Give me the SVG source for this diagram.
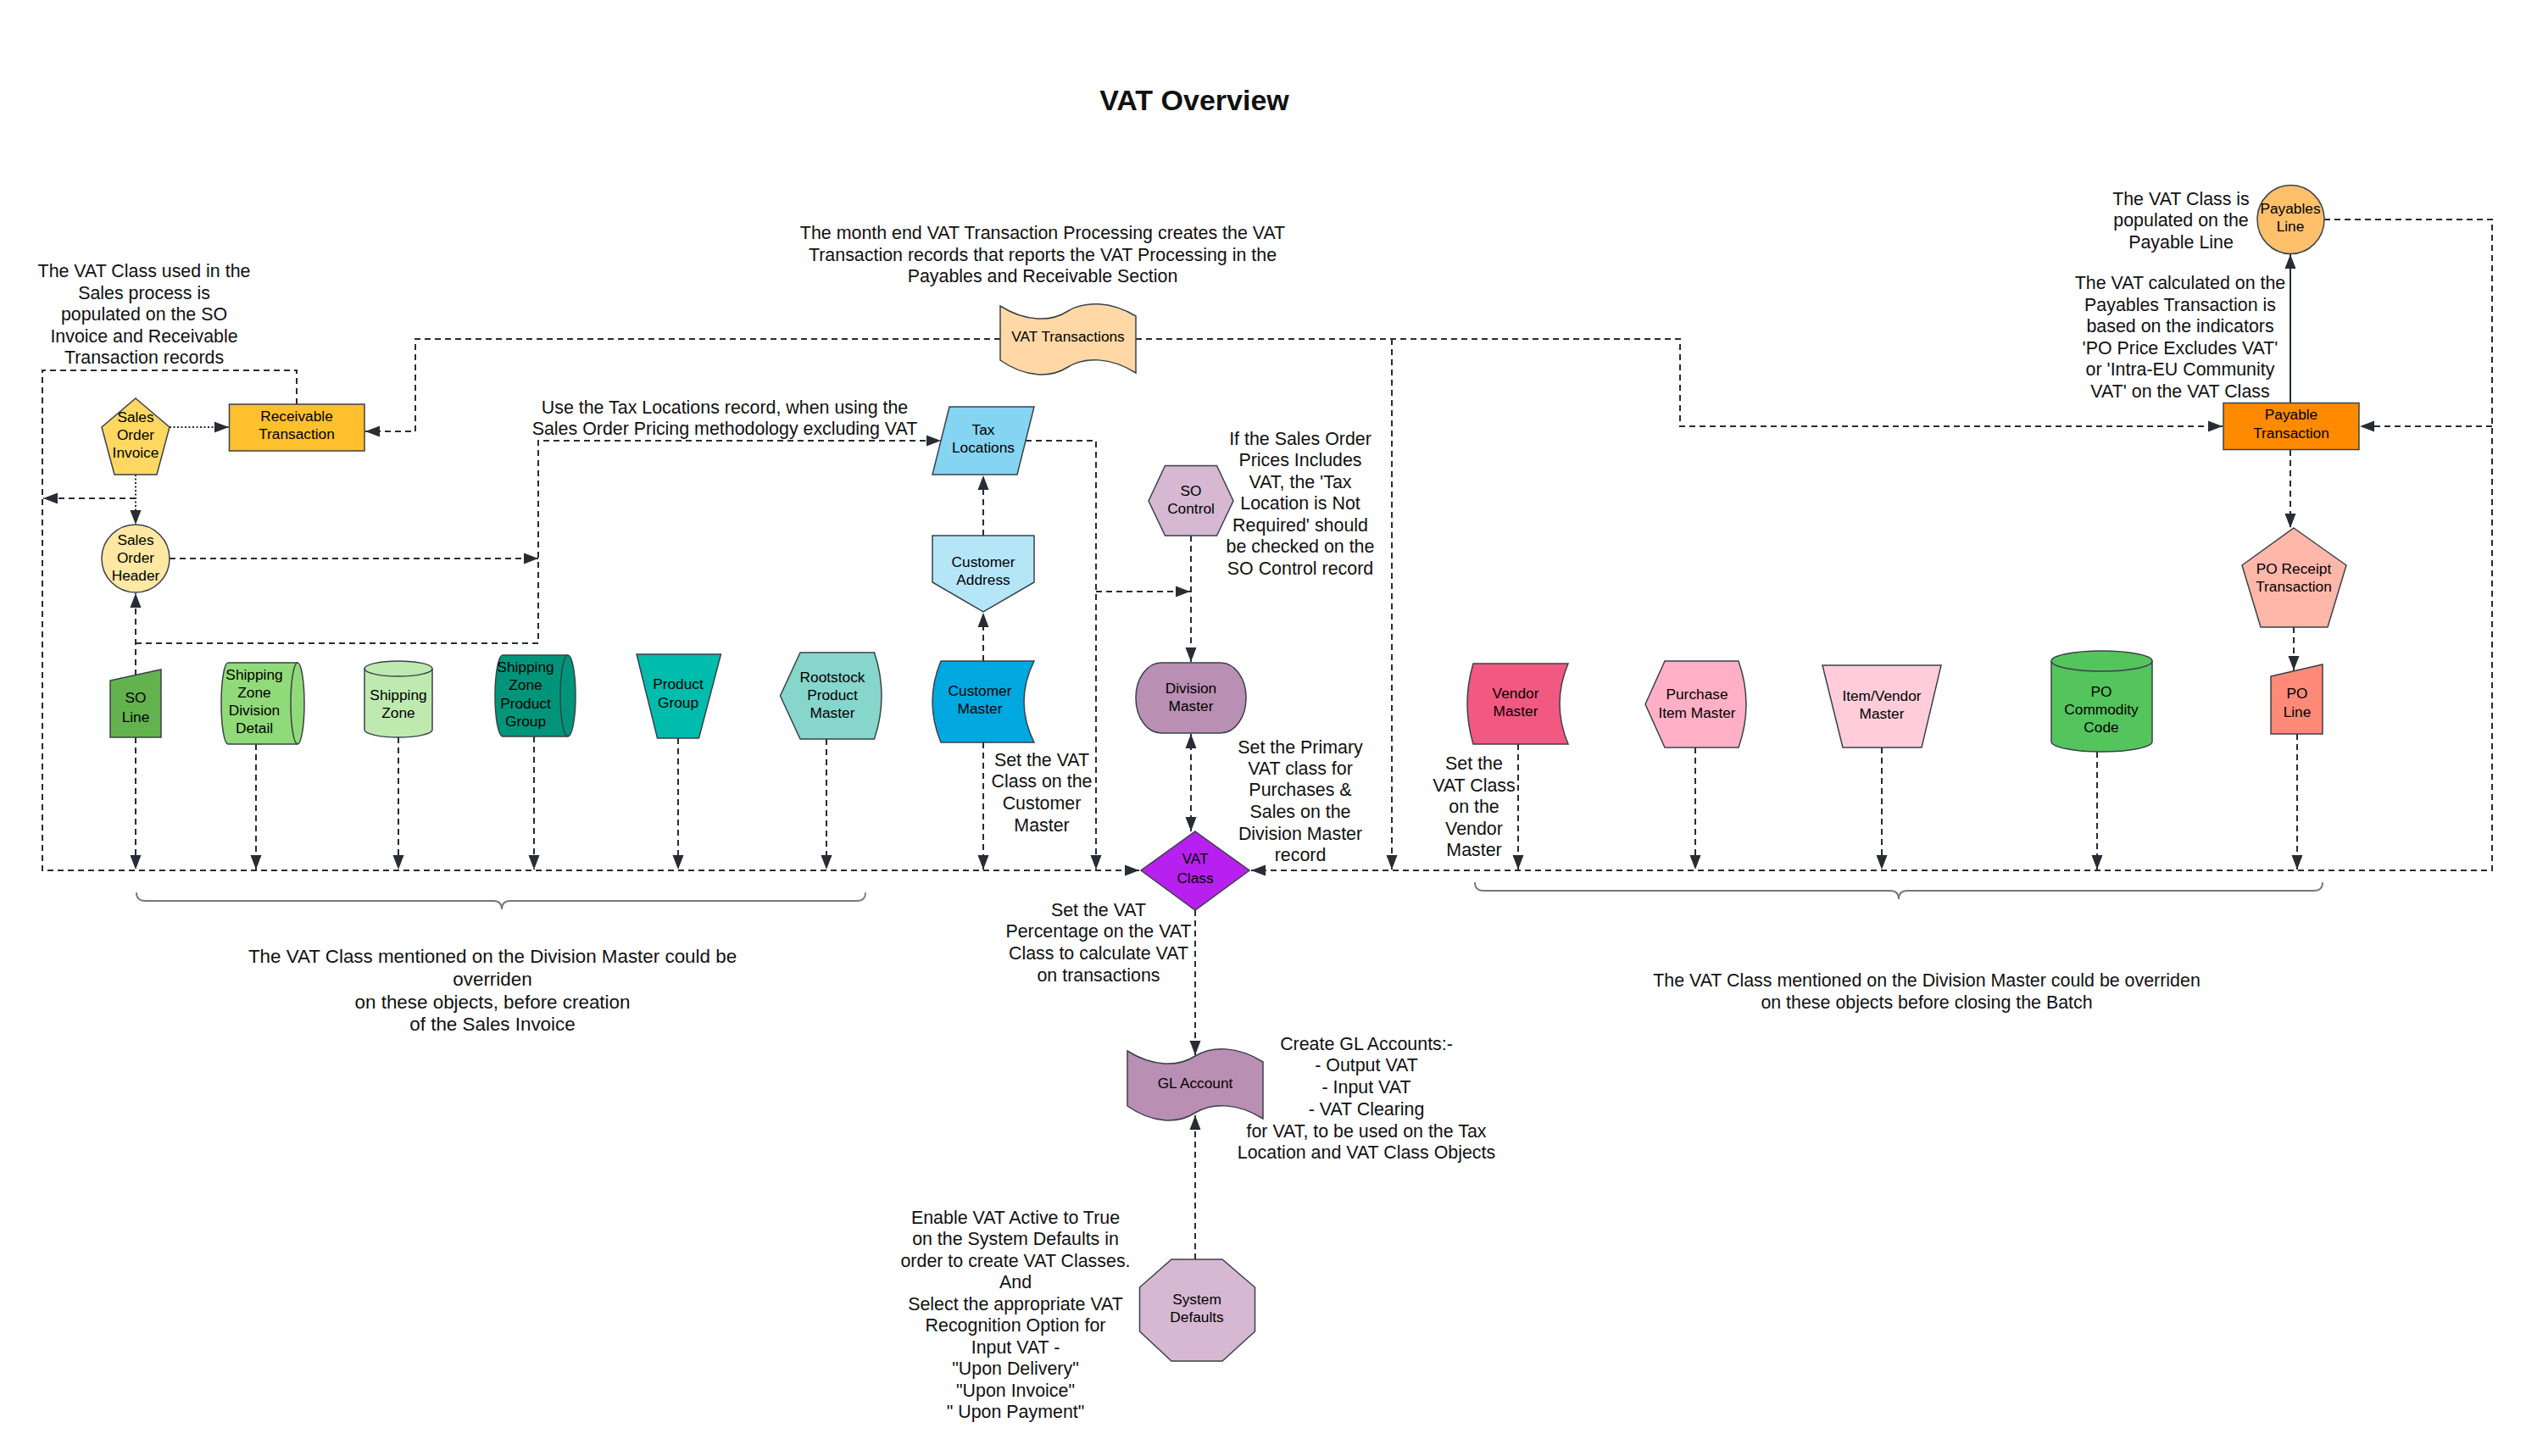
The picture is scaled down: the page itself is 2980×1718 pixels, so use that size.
<svg xmlns="http://www.w3.org/2000/svg" width="2980" height="1718" viewBox="0 0 2980 1718">
<style>
text{font-family:"Liberation Sans",Arial,sans-serif;text-anchor:middle;fill:#111}
.a{font-size:21.4px}
.a2{font-size:22.4px}
.n{font-size:17.3px;fill:#000}
.t{font-size:34px;font-weight:bold}
.sh{stroke:#3a414a;stroke-width:1.5}
.c{fill:none;stroke:#282c33;stroke-width:2}
.d{stroke-dasharray:7 5}
.dt{stroke-dasharray:2 2.5}
.br{fill:none;stroke:#777;stroke-width:1.8}
</style>
<defs>
<marker id="ah" markerUnits="userSpaceOnUse" markerWidth="18" markerHeight="14" refX="17" refY="7" orient="auto-start-reverse">
<path d="M0,0.5 L17,7 L0,13.5 Z" fill="#282c33"/>
</marker>
</defs>
<rect width="2980" height="1718" fill="#fff"/>
<text class="t" x="1409" y="130">VAT Overview</text>

<g id="connectors">
<path class="c d" d="M350,477 V437 H50 V1027 H1344" marker-end="url(#ah)"/>
<path class="c dt" d="M200,504 H270" marker-end="url(#ah)"/>
<path class="c dt" d="M160,560 V619" marker-end="url(#ah)"/>
<path class="c d" d="M160,588 H51" marker-end="url(#ah)"/>
<path class="c d" d="M200,659 H635" marker-end="url(#ah)"/>
<path class="c d" d="M160,759 H635 V520 H1110" marker-end="url(#ah)"/>
<path class="c d" d="M160,797 V700" marker-end="url(#ah)"/>
<path class="c d" d="M1180,400 H490 V509 H431" marker-end="url(#ah)"/>
<path class="c d" d="M1210,520 H1293 V1026" marker-end="url(#ah)"/>
<path class="c d" d="M1293,698 H1404" marker-end="url(#ah)"/>
<path class="c d" d="M1160,632 V561" marker-end="url(#ah)"/>
<path class="c d" d="M1160,780 V723" marker-end="url(#ah)"/>
<path class="c d" d="M1160,876 V1026" marker-end="url(#ah)"/>
<path class="c d" d="M1405,632 V781" marker-end="url(#ah)"/>
<path class="c d" d="M1405,866 V981" marker-start="url(#ah)" marker-end="url(#ah)"/>
<path class="c d" d="M1410,1074 V1245" marker-end="url(#ah)"/>
<path class="c d" d="M1410,1486 V1316" marker-end="url(#ah)"/>
<path class="c d" d="M2742,259 H2940 V1027 H1476" marker-end="url(#ah)"/>
<path class="c d" d="M2940,503 H2784" marker-end="url(#ah)"/>
<path class="c d" d="M1340,400 H1982 V503 H2622" marker-end="url(#ah)"/>
<path class="c d" d="M1642,400 V1026" marker-end="url(#ah)"/>
<path class="c" d="M2702,475 V300" marker-end="url(#ah)"/>
<path class="c d" d="M2702,531 V623" marker-end="url(#ah)"/>
<path class="c d" d="M2706,740 V791" marker-end="url(#ah)"/>
<path class="c d" d="M2710,866 V1026" marker-end="url(#ah)"/>
<path class="c d" d="M1791,878 V1026" marker-end="url(#ah)"/>
<path class="c d" d="M2000,882 V1026" marker-end="url(#ah)"/>
<path class="c d" d="M2220,882 V1026" marker-end="url(#ah)"/>
<path class="c d" d="M2474,887 V1026" marker-end="url(#ah)"/>
<path class="c d" d="M160,870 V1026" marker-end="url(#ah)"/>
<path class="c d" d="M302,878 V1026" marker-end="url(#ah)"/>
<path class="c d" d="M470,870 V1026" marker-end="url(#ah)"/>
<path class="c d" d="M630,869 V1026" marker-end="url(#ah)"/>
<path class="c d" d="M800,871 V1026" marker-end="url(#ah)"/>
<path class="c d" d="M975,872 V1026" marker-end="url(#ah)"/>
</g>

<g id="braces">
<path class="br" d="M161,1053 Q161,1063 171,1063 H582 Q592,1063 592,1073 Q592,1063 602,1063 H1011 Q1021,1063 1021,1053"/>
<path class="br" d="M1740,1041 Q1740,1051 1750,1051 H2230 Q2240,1051 2240,1061 Q2240,1051 2250,1051 H2730 Q2740,1051 2740,1041"/>
</g>

<g id="sales-order-invoice">
<path class="sh" fill="#ffd862" d="M160,470 L200,504 L185,560 L135,560 L120,504 Z"/>
<text class="n"><tspan x="160" y="498">Sales</tspan><tspan x="160" y="519">Order</tspan><tspan x="160" y="540">Invoice</tspan></text>
</g>
<g id="receivable-transaction">
<rect class="sh" fill="#ffc02e" x="270.5" y="477" width="159.5" height="55"/>
<text class="n"><tspan x="350" y="497">Receivable</tspan><tspan x="350" y="518">Transaction</tspan></text>
</g>
<g id="sales-order-header">
<ellipse class="sh" fill="#ffe8a3" cx="160" cy="659" rx="40" ry="40"/>
<text class="n"><tspan x="160" y="643">Sales</tspan><tspan x="160" y="664">Order</tspan><tspan x="160" y="685">Header</tspan></text>
</g>
<g id="vat-transactions">
<path class="sh" fill="#ffd8a6" d="M1180,361 C1210,380 1240,380 1260,367 C1280,355 1310,355 1340,373 L1340,440 C1310,421 1280,421 1260,433 C1240,446 1210,446 1180,425 Z"/>
<text class="n" x="1260" y="403">VAT Transactions</text>
</g>
<g id="tax-locations">
<path class="sh" fill="#84d4f2" d="M1120,480 L1220,480 L1200,560 L1100,560 Z"/>
<text class="n"><tspan x="1160" y="513">Tax</tspan><tspan x="1160" y="534">Locations</tspan></text>
</g>
<g id="customer-address">
<path class="sh" fill="#b5e6f8" d="M1100,632 L1220,632 L1220,687 L1160,722 L1100,687 Z"/>
<text class="n"><tspan x="1160" y="669">Customer</tspan><tspan x="1160" y="690">Address</tspan></text>
</g>
<g id="customer-master">
<path class="sh" fill="#00a8df" d="M1110,780 L1220,780 Q1196,828 1220,876 L1110,876 Q1090,828 1110,780 Z"/>
<text class="n"><tspan x="1156" y="821">Customer</tspan><tspan x="1156" y="842">Master</tspan></text>
</g>
<g id="so-control">
<path class="sh" fill="#d6b8d3" d="M1355,591 L1374.5,549.5 L1435.5,549.5 L1455,591 L1435.5,632 L1374.5,632 Z"/>
<text class="n"><tspan x="1405" y="585">SO</tspan><tspan x="1405" y="606">Control</tspan></text>
</g>
<g id="division-master">
<rect class="sh" fill="#b98fb4" x="1340" y="782" width="130" height="83" rx="30" ry="41"/>
<text class="n"><tspan x="1405" y="818">Division</tspan><tspan x="1405" y="839">Master</tspan></text>
</g>
<g id="vat-class">
<path class="sh" fill="#b720ee" d="M1410,981 L1474,1027 L1410,1074 L1346,1027 Z"/>
<text class="n"><tspan x="1410" y="1019">VAT</tspan><tspan x="1410" y="1042">Class</tspan></text>
</g>
<g id="gl-account">
<path class="sh" fill="#b98fb4" d="M1330,1240 C1360,1259 1390,1259 1410,1246 C1430,1234 1460,1234 1490,1253 L1490,1320 C1460,1301 1430,1301 1410,1313 C1390,1326 1360,1326 1330,1305 Z"/>
<text class="n" x="1410" y="1284">GL Account</text>
</g>
<g id="system-defaults">
<path class="sh" fill="#d6b8d3" d="M1382,1486 L1442,1486 L1480.5,1519 L1480.5,1571 L1442,1606 L1382,1606 L1344.5,1571 L1344.5,1519 Z"/>
<text class="n"><tspan x="1412" y="1539">System</tspan><tspan x="1412" y="1560">Defaults</tspan></text>
</g>
<g id="payables-line">
<ellipse class="sh" fill="#ffc06c" cx="2702.5" cy="259" rx="39.5" ry="40.5"/>
<text class="n"><tspan x="2702" y="252">Payables</tspan><tspan x="2702" y="273">Line</tspan></text>
</g>
<g id="payable-transaction">
<rect class="sh" fill="#ff8a00" x="2623" y="475.5" width="160" height="55"/>
<text class="n"><tspan x="2703" y="495">Payable</tspan><tspan x="2703" y="517">Transaction</tspan></text>
</g>
<g id="po-receipt-transaction">
<path class="sh" fill="#ffb7aa" d="M2706,623 L2768,667 L2746,740 L2667,740 L2645,667 Z"/>
<text class="n"><tspan x="2706" y="677">PO Receipt</tspan><tspan x="2706" y="698">Transaction</tspan></text>
</g>
<g id="po-line">
<path class="sh" fill="#ff8a78" d="M2679,798 L2740,784 L2740,866 L2679,866 Z"/>
<text class="n"><tspan x="2710" y="824">PO</tspan><tspan x="2710" y="846">Line</tspan></text>
</g>
<g id="vendor-master">
<path class="sh" fill="#f25981" d="M1738,783 L1850,783 Q1830,830.5 1850,878 L1738,878 Q1724,830.5 1738,783 Z"/>
<text class="n"><tspan x="1788" y="824">Vendor</tspan><tspan x="1788" y="845">Master</tspan></text>
</g>
<g id="purchase-item-master">
<path class="sh" fill="#ffb0c6" d="M1964,780 L2051,780 Q2069,831 2051,882 L1964,882 L1941,831 Z"/>
<text class="n"><tspan x="2002" y="825">Purchase</tspan><tspan x="2002" y="847">Item Master</tspan></text>
</g>
<g id="item-vendor-master">
<path class="sh" fill="#ffcdda" d="M2150,785 L2290,785 L2267,882 L2174,882 Z"/>
<text class="n"><tspan x="2220" y="827">Item/Vendor</tspan><tspan x="2220" y="848">Master</tspan></text>
</g>
<g id="po-commodity-code">
<path class="sh" fill="#54c45c" d="M2420,780 A59.5,12 0 0 1 2539,780 L2539,875 A59.5,12 0 0 1 2420,875 Z"/>
<path class="sh" fill="none" d="M2420,780 A59.5,12 0 0 0 2539,780"/>
<text class="n"><tspan x="2479" y="822">PO</tspan><tspan x="2479" y="843">Commodity</tspan><tspan x="2479" y="864">Code</tspan></text>
</g>
<g id="so-line">
<path class="sh" fill="#62b34e" d="M130,803 L190,790 L190,870 L130,870 Z"/>
<text class="n"><tspan x="160" y="829">SO</tspan><tspan x="160" y="852">Line</tspan></text>
</g>
<g id="shipping-zone-division-detail">
<path class="sh" fill="#91da79" d="M269,782 L351,782 A8,48 0 0 1 351,878 L269,878 A8,48 0 0 1 269,782 Z"/>
<path class="sh" fill="none" d="M351,782 A8,48 0 0 0 351,878"/>
<text class="n"><tspan x="300" y="802">Shipping</tspan><tspan x="300" y="823">Zone</tspan><tspan x="300" y="844">Division</tspan><tspan x="300" y="865">Detail</tspan></text>
</g>
<g id="shipping-zone">
<path class="sh" fill="#beeab0" d="M430,789 A40,9 0 0 1 510,789 L510,861 A40,9 0 0 1 430,861 Z"/>
<path class="sh" fill="none" d="M430,789 A40,9 0 0 0 510,789"/>
<text class="n"><tspan x="470" y="826">Shipping</tspan><tspan x="470" y="847">Zone</tspan></text>
</g>
<g id="shipping-zone-product-group">
<path class="sh" fill="#00957a" d="M593,773 L670,773 A9,48 0 0 1 670,869 L593,869 A9,48 0 0 1 593,773 Z"/>
<path class="sh" fill="none" d="M670,773 A9,48 0 0 0 670,869"/>
<text class="n"><tspan x="620" y="793">Shipping</tspan><tspan x="620" y="814">Zone</tspan><tspan x="620" y="836">Product</tspan><tspan x="620" y="857">Group</tspan></text>
</g>
<g id="product-group">
<path class="sh" fill="#00bcac" d="M751,772 L850.5,772 L824.5,871 L775.5,871 Z"/>
<text class="n"><tspan x="800" y="813">Product</tspan><tspan x="800" y="835">Group</tspan></text>
</g>
<g id="rootstock-product-master">
<path class="sh" fill="#87d6cb" d="M944,770 L1031.5,770 Q1048.5,821 1031.5,872 L944,872 L920.5,821 Z"/>
<text class="n"><tspan x="982" y="805">Rootstock</tspan><tspan x="982" y="826">Product</tspan><tspan x="982" y="847">Master</tspan></text>
</g>

<g id="annotations">
<text class="a"><tspan x="170" y="327">The VAT Class used in the</tspan><tspan x="170" y="352.5">Sales process is</tspan><tspan x="170" y="378">populated on the SO</tspan><tspan x="170" y="403.5">Invoice and Receivable</tspan><tspan x="170" y="429">Transaction records</tspan></text>
<text class="a"><tspan x="1230" y="282">The month end VAT Transaction Processing creates the VAT</tspan><tspan x="1230" y="307.5">Transaction records that reports the VAT Processing in the</tspan><tspan x="1230" y="333">Payables and Receivable Section</tspan></text>
<text class="a"><tspan x="855" y="488">Use the Tax Locations record, when using the</tspan><tspan x="855" y="512.5">Sales Order Pricing methodology excluding VAT</tspan></text>
<text class="a"><tspan x="1534" y="524.5">If the Sales Order</tspan><tspan x="1534" y="550">Prices Includes</tspan><tspan x="1534" y="575.5">VAT, the 'Tax</tspan><tspan x="1534" y="601">Location is Not</tspan><tspan x="1534" y="626.5">Required' should</tspan><tspan x="1534" y="652">be checked on the</tspan><tspan x="1534" y="677.5">SO Control record</tspan></text>
<text class="a"><tspan x="1229" y="903.5">Set the VAT</tspan><tspan x="1229" y="929">Class on the</tspan><tspan x="1229" y="955">Customer</tspan><tspan x="1229" y="980.5">Master</tspan></text>
<text class="a"><tspan x="1534" y="888.5">Set the Primary</tspan><tspan x="1534" y="913.5">VAT class for</tspan><tspan x="1534" y="939">Purchases &amp;</tspan><tspan x="1534" y="965">Sales on the</tspan><tspan x="1534" y="990.5">Division Master</tspan><tspan x="1534" y="1016">record</tspan></text>
<text class="a"><tspan x="1739" y="907.5">Set the</tspan><tspan x="1739" y="933.5">VAT Class</tspan><tspan x="1739" y="958.5">on the</tspan><tspan x="1739" y="984.5">Vendor</tspan><tspan x="1739" y="1009.5">Master</tspan></text>
<text class="a"><tspan x="1296" y="1080.5">Set the VAT</tspan><tspan x="1296" y="1106">Percentage on the VAT</tspan><tspan x="1296" y="1132">Class to calculate VAT</tspan><tspan x="1296" y="1157.5">on transactions</tspan></text>
<text class="a"><tspan x="1612" y="1238.5">Create GL Accounts:-</tspan><tspan x="1612" y="1264">- Output VAT</tspan><tspan x="1612" y="1289.5">- Input VAT</tspan><tspan x="1612" y="1315.5">- VAT Clearing</tspan><tspan x="1612" y="1341.5">for VAT, to be used on the Tax</tspan><tspan x="1612" y="1366.5">Location and VAT Class Objects</tspan></text>
<text class="a"><tspan x="1198" y="1443.5">Enable VAT Active to True</tspan><tspan x="1198" y="1469">on the System Defaults in</tspan><tspan x="1198" y="1494.5">order to create VAT Classes.</tspan><tspan x="1198" y="1520">And</tspan><tspan x="1198" y="1545.5">Select the appropriate VAT</tspan><tspan x="1198" y="1571">Recognition Option for</tspan><tspan x="1198" y="1596.5">Input VAT -</tspan><tspan x="1198" y="1622">"Upon Delivery"</tspan><tspan x="1198" y="1647.5">"Upon Invoice"</tspan><tspan x="1198" y="1673">" Upon Payment"</tspan></text>
<text class="a"><tspan x="2573" y="241.5">The VAT Class is</tspan><tspan x="2573" y="267">populated on the</tspan><tspan x="2573" y="292.5">Payable Line</tspan></text>
<text class="a"><tspan x="2572" y="341">The VAT calculated on the</tspan><tspan x="2572" y="366.5">Payables Transaction is</tspan><tspan x="2572" y="392">based on the indicators</tspan><tspan x="2572" y="417.5">'PO Price Excludes VAT'</tspan><tspan x="2572" y="443">or 'Intra-EU Community</tspan><tspan x="2572" y="469">VAT' on the VAT Class</tspan></text>
<text class="a2"><tspan x="581" y="1136">The VAT Class mentioned on the Division Master could be</tspan><tspan x="581" y="1162.5">overriden</tspan><tspan x="581" y="1189.5">on these objects, before creation</tspan><tspan x="581" y="1216">of the Sales Invoice</tspan></text>
<text class="a"><tspan x="2273" y="1163.5">The VAT Class mentioned on the Division Master could be overriden</tspan><tspan x="2273" y="1189.5">on these objects before closing the Batch</tspan></text>
</g>
</svg>
